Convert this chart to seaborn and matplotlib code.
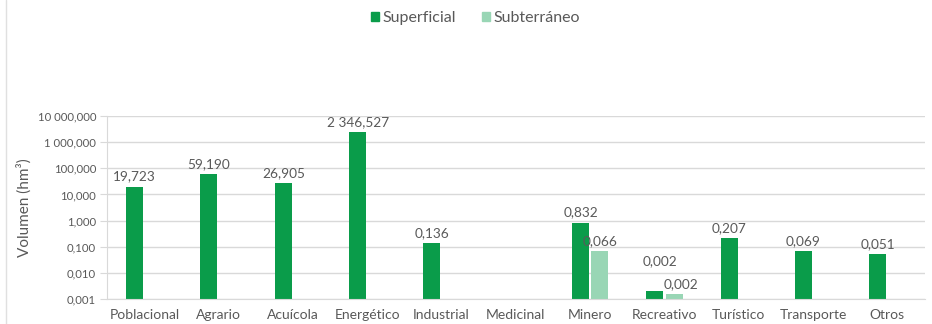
import matplotlib
matplotlib.use("Agg")
import matplotlib.pyplot as plt
from matplotlib.lines import Line2D
from matplotlib.ticker import FixedLocator, FuncFormatter, NullLocator
import seaborn as sns
import pandas as pd
import numpy as np

# -----------------------------
# Data
# -----------------------------
categorias = ["Poblacional", "Agrario", "Acuícola", "Energético", "Industrial",
              "Medicinal", "Minero", "Recreativo", "Turístico", "Transporte", "Otros"]
superficial = [19.723, 59.190, 26.905, 2346.527, 0.136,
               None, 0.832, 0.002, 0.207, 0.069, 0.051]
subterraneo = [None, None, None, None, None,
               None, 0.066, 0.0015, None, None, None]
series = ["Superficial", "Subterráneo"]
y_ticks = [0.001, 0.01, 0.1, 1, 10, 100, 1000, 10000]

colores = {"Superficial": "#0a9c4a", "Subterráneo": "#99d6b5"}
gris_texto = "#595959"
gris_linea = "#d9d9d9"

df = pd.DataFrame({
    "categoria": categorias * 2,
    "serie": [series[0]] * len(categorias) + [series[1]] * len(categorias),
    "volumen": superficial + subterraneo,
}).astype({"volumen": float})


def fmt_es(v):
    s = f"{v:,.3f}"
    return s.replace(",", " ").replace(".", ",")


# -----------------------------
# Plot
# -----------------------------
sns.set_style("white")
plt.rcParams["font.family"] = ["Lato", "DejaVu Sans"]

fig = plt.figure(figsize=(9.32, 3.24), dpi=100)
ax = fig.add_axes([0.115, 0.077, 0.877, 0.565])

sns.barplot(data=df, x="categoria", y="volumen", hue="serie",
            order=categorias, hue_order=series, palette=colores,
            saturation=1, width=0.52, gap=0.12, dodge=True, errorbar=None,
            legend=False, ax=ax, linewidth=0)

# log axis applied after drawing so bars start at the bottom of the axes
ax.set_yscale("log")
ax.set_ylim(0.001, 10000)
ax.yaxis.set_major_locator(FixedLocator(y_ticks))
ax.yaxis.set_minor_locator(NullLocator())
ax.yaxis.set_major_formatter(FuncFormatter(lambda v, p: fmt_es(v)))
ax.grid(axis="y", color=gris_linea, linewidth=1)
ax.set_axisbelow(True)

for side in ["top", "right"]:
    ax.spines[side].set_visible(False)
ax.spines["left"].set_color(gris_linea)
ax.spines["bottom"].set_color(gris_linea)

ax.tick_params(axis="y", left=True, length=5, color=gris_linea,
               labelsize=8.2, labelcolor=gris_texto, pad=3)
ax.tick_params(axis="x", bottom=False, labelsize=10,
               labelcolor=gris_texto, pad=4)
ax.set_xlabel("")
ax.set_ylabel("Volumen (hm³)", fontsize=11, color=gris_texto, labelpad=4)

# data labels
i_rec = categorias.index("Recreativo")
for k, cont in enumerate(ax.containers):
    labels = ["" if np.isnan(v) else fmt_es(v) for v in cont.datavalues]
    anns = ax.bar_label(cont, labels=labels, padding=3, fontsize=9.8,
                        color=gris_texto)
    for bar, ann in zip(cont, anns):
        cat = int(round(bar.get_x() + bar.get_width() / 2))
        if cat == i_rec:
            # Recreativo labels are nudged so they do not collide
            ann.xyann = (4, 17) if k == 0 else (5, 3)

# legend
handles = [plt.Rectangle((0, 0), 1, 1, color=colores[s]) for s in series]
fig.legend(handles, series, loc="center", bbox_to_anchor=(0.51, 0.944),
           ncol=2, frameon=False, fontsize=11.5, handlelength=0.5,
           handleheight=0.5, handletextpad=0.25, columnspacing=1.6,
           labelcolor=gris_texto)

# outer frame line on the left
fig.add_artist(Line2D([0.006, 0.006], [0, 1], transform=fig.transFigure,
                      color="#e0e0e0", linewidth=1))

plt.savefig("out.png", dpi=100)
